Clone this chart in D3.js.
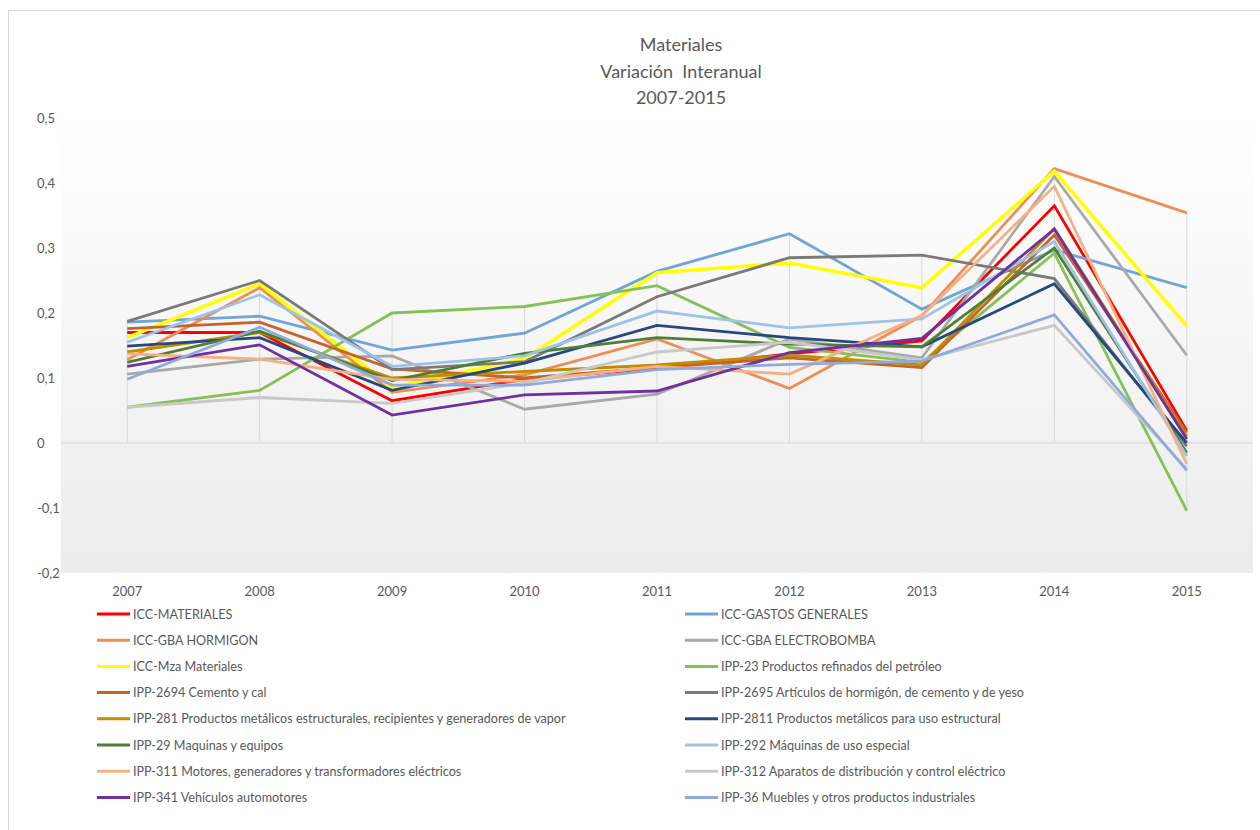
<!DOCTYPE html>
<html>
<head>
<meta charset="utf-8">
<script src="https://cdn.jsdelivr.net/npm/d3@7"></script>
<style>
  body { margin: 0; background: #fff; }
  text { font-family: Lato, "Open Sans", sans-serif; fill: #595959; }
</style>
</head>
<body>
<div id="chart"></div>
<script>
var years = ["2007", "2008", "2009", "2010", "2011", "2012", "2013", "2014", "2015"];
var yTicks = [-0.2, -0.1, 0, 0.1, 0.2, 0.3, 0.4, 0.5];
var titleLines = ["Materiales", "Variación  Interanual", "2007-2015"];

var seriesNames = [
  "ICC-MATERIALES",
  "ICC-GASTOS GENERALES",
  "ICC-GBA HORMIGON",
  "ICC-GBA ELECTROBOMBA",
  "ICC-Mza Materiales",
  "IPP-23 Productos refinados del petróleo",
  "IPP-2694 Cemento y cal",
  "IPP-2695 Artículos de hormigón, de cemento y de yeso",
  "IPP-281 Productos metálicos estructurales, recipientes y generadores de vapor",
  "IPP-2811 Productos metálicos para uso estructural",
  "IPP-29 Maquinas y equipos",
  "IPP-292 Máquinas de uso especial",
  "IPP-311 Motores, generadores y transformadores eléctricos",
  "IPP-312 Aparatos de distribución y control eléctrico",
  "IPP-341 Vehículos automotores",
  "IPP-36 Muebles y otros productos industriales"
];

var seriesColors = [
  "#ff0000", "#6fa5d8", "#ee8d55", "#a9a9a9",
  "#ffff00", "#86c157", "#c7622a", "#7a7a7a",
  "#bf8f00", "#27487f", "#4f7f35", "#9fc3e8",
  "#f4b183", "#c9c9c9", "#7030a0", "#8faadc"
];

// one array per series, 2007..2015
var iccMateriales   = [0.170, 0.170, 0.065, 0.098, 0.115, 0.137, 0.157, 0.365, 0.019];
var iccGastos       = [0.186, 0.195, 0.143, 0.169, 0.264, 0.322, 0.206, 0.297, 0.239];
var iccHormigon     = [0.128, 0.239, 0.078, 0.105, 0.160, 0.084, 0.196, 0.422, 0.354];
var iccElectrobomba = [0.106, 0.129, 0.134, 0.052, 0.075, 0.160, 0.131, 0.410, 0.135];
var iccMza          = [0.162, 0.245, 0.085, 0.130, 0.262, 0.277, 0.239, 0.418, 0.180];
var ipp23           = [0.055, 0.081, 0.200, 0.210, 0.242, 0.147, 0.124, 0.292, -0.104];
var ipp2694         = [0.176, 0.186, 0.114, 0.100, 0.116, 0.131, 0.116, 0.320, 0.016];
var ipp2695         = [0.187, 0.250, 0.113, 0.125, 0.225, 0.285, 0.289, 0.253, -0.005];
var ipp281          = [0.140, 0.170, 0.100, 0.110, 0.120, 0.135, 0.120, 0.330, 0.010];
var ipp2811         = [0.149, 0.162, 0.081, 0.123, 0.181, 0.162, 0.148, 0.245, 0.000];
var ipp29           = [0.124, 0.172, 0.096, 0.138, 0.162, 0.152, 0.148, 0.300, -0.015];
var ipp292          = [0.155, 0.228, 0.118, 0.134, 0.203, 0.177, 0.191, 0.310, -0.020];
var ipp311          = [0.137, 0.129, 0.098, 0.095, 0.118, 0.106, 0.196, 0.395, -0.032];
var ipp312          = [0.055, 0.070, 0.061, 0.092, 0.140, 0.155, 0.128, 0.181, -0.040];
var ipp341          = [0.118, 0.151, 0.043, 0.074, 0.080, 0.139, 0.161, 0.329, 0.006];
var ipp36           = [0.098, 0.178, 0.089, 0.089, 0.113, 0.121, 0.126, 0.197, -0.042];

var seriesValues = [iccMateriales, iccGastos, iccHormigon, iccElectrobomba, iccMza, ipp23,
  ipp2694, ipp2695, ipp281, ipp2811, ipp29, ipp292, ipp311, ipp312, ipp341, ipp36];

var series = seriesNames.map(function(name, i) {
  return {name: name, color: seriesColors[i], values: seriesValues[i]};
});

var width = 1260, height = 830;
var plot = {left: 61, right: 1253, top: 118, bottom: 573};

var svg = d3.select("#chart").append("svg")
    .attr("width", width)
    .attr("height", height);

// outer chart frame
svg.append("rect")
    .attr("x", 8.5).attr("y", 10.5)
    .attr("width", 1270).attr("height", 840)
    .attr("fill", "#fff")
    .attr("stroke", "#d9d9d9");

var defs = svg.append("defs");
var grad = defs.append("linearGradient")
    .attr("id", "plotbg")
    .attr("x1", 0).attr("y1", 0).attr("x2", 0).attr("y2", 1);
grad.append("stop").attr("offset", "0%").attr("stop-color", "#ffffff");
grad.append("stop").attr("offset", "100%").attr("stop-color", "#ececec");

svg.append("rect")
    .attr("x", plot.left).attr("y", plot.top)
    .attr("width", plot.right - plot.left).attr("height", plot.bottom - plot.top)
    .attr("fill", "url(#plotbg)");

var x = d3.scalePoint()
    .domain(years)
    .range([plot.left, plot.right])
    .padding(0.5);

var y = d3.scaleLinear()
    .domain([-0.2, 0.5])
    .range([plot.bottom, plot.top]);

// title
svg.append("g").selectAll("text")
    .data(titleLines)
    .enter().append("text")
    .attr("x", 681)
    .attr("y", function(d, i) { return 51 + i * 26.5; })
    .attr("text-anchor", "middle")
    .style("font-size", "18px")
    .style("fill", "#5a5a5a")
    .style("white-space", "pre")
    .text(function(d) { return d; });

// y labels, comma decimals and plain hyphen
var fmt = function(v) {
  if (Math.abs(v) < 1e-9) return "0";
  return (v < 0 ? "-" : "") + d3.format(".1f")(Math.abs(v)).replace(".", ",");
};
svg.append("g").selectAll("text")
    .data(yTicks)
    .enter().append("text")
    .attr("x", 37)
    .attr("y", function(d) { return y(d) + 5; })
    .style("font-size", "13px")
    .text(fmt);

// drop lines from the extremes down to the axis
svg.append("g").selectAll("line")
    .data(years)
    .enter().append("line")
    .attr("x1", function(d) { return x(d); })
    .attr("x2", function(d) { return x(d); })
    .attr("y1", function(d, i) { return y(Math.max(0, d3.max(seriesValues, function(s) { return s[i]; }))); })
    .attr("y2", function(d, i) { return y(Math.min(0, d3.min(seriesValues, function(s) { return s[i]; }))); })
    .attr("stroke", "#d9d9d9")
    .attr("stroke-width", 1);

// zero axis line
svg.append("line")
    .attr("x1", plot.left).attr("x2", plot.right)
    .attr("y1", y(0)).attr("y2", y(0))
    .attr("stroke", "#d9d9d9")
    .attr("stroke-width", 1);

// x labels
svg.append("g").selectAll("text")
    .data(years)
    .enter().append("text")
    .attr("x", function(d) { return x(d); })
    .attr("y", 596)
    .attr("text-anchor", "middle")
    .style("font-size", "13px")
    .text(function(d) { return d; });

var line = d3.line()
    .x(function(d, i) { return x(years[i]); })
    .y(function(d) { return y(d); });

svg.append("g").selectAll("path")
    .data(series)
    .enter().append("path")
    .attr("d", function(d) { return line(d.values); })
    .attr("fill", "none")
    .attr("stroke", function(d) { return d.color; })
    .attr("stroke-width", function(d) { return d.color === "#ffff00" ? 3.5 : 2.8; })
    .attr("stroke-linejoin", "miter");

// legend, two columns
var legend = svg.append("g").selectAll("g")
    .data(series)
    .enter().append("g")
    .attr("transform", function(d, i) {
      var col = i % 2, row = Math.floor(i / 2);
      return "translate(" + (col === 0 ? 97 : 685) + "," + (614 + row * 26.2) + ")";
    });

legend.append("line")
    .attr("x1", 0).attr("x2", 33)
    .attr("stroke", function(d) { return d.color; })
    .attr("stroke-width", 3);

legend.append("text")
    .attr("x", 36)
    .attr("y", 4.5)
    .style("font-size", "12.6px")
    .text(function(d) { return d.name; });
</script>
</body>
</html>
